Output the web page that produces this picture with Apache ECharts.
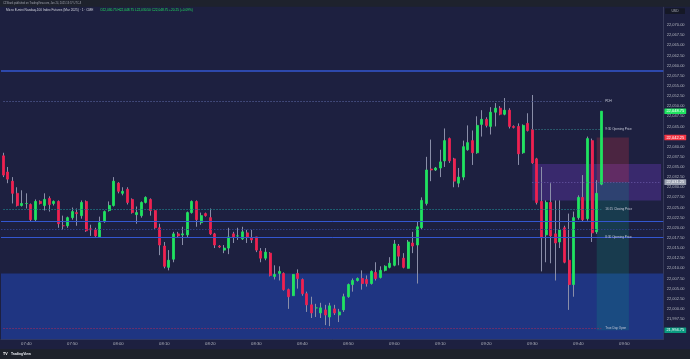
<!DOCTYPE html>
<html><head><meta charset="utf-8">
<script src="https://cdn.jsdelivr.net/npm/echarts/dist/echarts.min.js"></script>
<style>html,body{margin:0;padding:0;background:#1d2040;}#c{width:690px;height:359px;}</style>
</head><body><div id="c"></div>
<script>
// minute categories 07:35 .. 09:58
const times = [];
for (let m = 7 * 60 + 35; m <= 9 * 60 + 58; m++) {
  times.push(String(Math.floor(m / 60)).padStart(2, '0') + ':' + String(m % 60).padStart(2, '0'));
}
const opens = [
22037.75,22033.75,22031.5,22028.5,22025.5,22026.0,22025.75,22022.0,22026.5,22025.5,
22027.25,22026.0,22026.5,22020.5,22020.5,22022.5,22023.75,22023.0,22026.5,22019.75,
22019.5,22017.75,22021.5,22024.25,22025.5,22031.0,22028.5,22029.5,22027.0,22023.25,
22023.0,22026.25,22027.0,22024.25,22020.0,22015.5,22010.25,22012.25,22018.5,22018.25,
22018.25,22023.75,22026.5,22021.25,22023.5,22022.5,22018.5,22015.5,22014.5,22015.0,
22018.5,22018.0,22017.25,22018.75,22017.5,22017.75,22014.25,22012.5,22013.75,22008.0,
22008.75,22008.75,22004.75,22003.25,22008.75,22007.25,22003.75,22001.0,22000.25,21999.0,
21999.75,21998.0,22000.0,21998.5,21999.75,22003.0,22006.0,22007.0,22007.5,22007.25,
22006.25,22009.0,22007.75,22009.5,22010.25,22010.75,22015.5,22012.5,22010.0,22016.25,
22015.75,22020.0,22026.0,22034.5,22034.25,22034.75,22036.5,22042.0,22037.0,22031.0,
22032.5,22039.25,22041.5,22038.5,22045.5,22046.75,22045.0,22048.5,22049.5,22048.0,
22049.0,22045.0,22045.0,22038.5,22045.75,22044.25,22037.0,22026.5,22018.25,22026.25,
22018.5,22016.5,22020.0,22012.0,22006.0,22022.5,22027.5,22022.25,22041.5,22019.0,22030.75];
const closes = [
22033.0,22032.0,22028.5,22025.5,22026.0,22026.0,22022.0,22026.5,22026.0,22027.0,
22025.75,22026.5,22021.0,22020.5,22022.5,22024.0,22023.5,22026.25,22019.25,22019.5,
22018.0,22021.25,22024.0,22025.5,22031.5,22029.0,22029.0,22026.25,22023.75,22023.75,
22026.25,22027.5,22024.25,22020.0,22015.75,22010.5,22012.0,22018.5,22018.0,22018.5,
22023.75,22026.5,22022.0,22023.0,22023.0,22018.5,22015.75,22015.25,22015.0,22017.75,
22017.75,22018.0,22019.0,22017.75,22017.0,22014.5,22012.5,22014.0,22008.25,22008.5,
22009.25,22004.75,22003.0,22008.5,22007.5,22003.75,22001.0,21999.0,22000.25,22000.25,
21998.5,22000.75,21999.0,21999.25,22003.0,22006.0,22007.0,22007.5,22006.25,22006.25,
22009.25,22007.5,22009.5,22010.5,22011.25,22016.0,22013.0,22010.25,22016.5,22015.5,
22020.25,22026.75,22034.25,22034.25,22034.75,22036.25,22041.5,22036.5,22031.5,22032.5,
22040.0,22041.0,22038.5,22045.25,22046.75,22045.25,22048.5,22049.5,22048.0,22049.0,
22045.0,22044.75,22038.25,22045.25,22044.0,22036.0,22026.25,22017.5,22026.25,22018.0,
22016.25,22019.5,22011.5,22006.0,22022.5,22027.5,22022.0,22042.0,22018.75,22028.5,22048.75];
const lows = [
22032.5,22031.0,22026.0,22025.25,22025.25,22024.75,22021.5,22021.5,22025.75,22024.25,
22024.0,22025.5,22020.0,22019.5,22020.0,22022.0,22020.5,22022.25,22019.0,22018.0,
22017.75,22017.5,22021.25,22024.0,22025.25,22028.5,22028.0,22025.75,22023.5,22021.0,
22022.5,22026.0,22023.0,22019.75,22013.25,22010.0,22009.5,22011.5,22017.5,22015.75,
22017.5,22023.5,22020.25,22020.75,22022.75,22018.25,22015.0,22015.0,22013.75,22013.5,
22016.25,22017.0,22017.0,22016.25,22016.25,22014.0,22011.5,22012.0,22008.0,22007.25,
22007.0,22004.5,22000.0,22003.25,22005.0,22003.25,21999.25,21997.75,21998.0,21997.75,
21996.0,21995.75,21998.5,21996.75,21999.25,22002.75,22004.25,22006.75,22004.75,22005.5,
22006.0,22007.0,22007.5,22009.25,22010.0,22010.5,22010.75,22010.0,22010.0,22013.75,
22006.25,22019.5,22025.5,22031.5,22034.0,22032.5,22035.0,22036.0,22030.0,22030.0,
22031.75,22039.0,22035.5,22038.25,22042.5,22044.75,22043.0,22045.0,22047.75,22047.75,
22044.5,22044.5,22035.5,22038.25,22043.75,22035.75,22025.75,22009.25,22011.5,22011.25,
22007.0,22015.0,22011.25,21999.75,22003.0,22022.0,22021.5,22021.75,22016.5,22018.5,22030.5];
const highs = [
22038.5,22035.0,22032.5,22030.0,22029.25,22028.5,22026.0,22027.0,22026.75,22028.5,
22027.75,22026.75,22026.75,22023.0,22022.75,22025.0,22024.75,22026.75,22026.75,22020.75,
22020.0,22022.75,22024.25,22026.5,22032.5,22031.25,22030.0,22030.0,22027.25,22025.25,
22026.5,22027.75,22027.25,22024.25,22021.0,22016.5,22014.5,22019.0,22019.0,22020.25,
22024.0,22026.75,22026.75,22023.75,22023.75,22024.75,22018.75,22015.75,22015.75,22020.0,
22019.0,22020.0,22020.25,22019.5,22019.5,22017.75,22015.0,22015.0,22014.0,22010.75,
22010.5,22009.0,22005.0,22008.5,22009.75,22007.5,22004.25,22003.0,22001.25,22001.5,
22001.0,22001.5,22001.0,22000.0,22003.75,22006.25,22007.5,22007.75,22009.5,22008.25,
22009.5,22011.5,22010.5,22010.75,22012.75,22017.0,22016.0,22013.75,22017.0,22019.0,
22021.5,22027.5,22037.5,22041.75,22035.0,22039.25,22044.5,22042.25,22037.25,22034.75,
22041.5,22045.25,22044.0,22047.5,22049.0,22047.25,22049.75,22050.75,22050.0,22052.0,
22049.5,22045.25,22045.75,22045.5,22048.25,22052.75,22037.25,22035.0,22026.75,22031.0,
22026.75,22026.75,22020.5,22023.5,22024.0,22028.0,22033.0,22042.5,22042.0,22031.75,22048.75];

// labelled key levels (end at last bar)
const levelNames  = ['PDH', '9:30 Opening Price', '16:15 Closing Price', '8:30 Opening Price', 'True Day Open'];
const levelPrices = [22051.25, 22044.25, 22024.5, 22017.75, 21995.25];
const levelStarts = ['07:35', '09:30', '07:35', '07:35', '07:35'];
const levelColors = ['#4a5488', '#2e6a78', '#1f7480', '#3a58b8', '#7d2f68'];
// full width lines
const solidLines  = [22058.75, 22021.5, 22017.75];
const dottedLines = [22019.75];
// zones
const demandZone = [22008.75, 21992.5];
const openRange = [22035.75, 22026.75];
const openRangeMid = 22031.25;
// short position tool
const posStart = '09:44', posEnd = '09:51';
const posStop = 22042.25, posEntry = 22031.25, posTarget = 21994.75;
// axis ticks
const yTicks = {min: 21992.5, max: 22074.5, step: 2.5, showFrom: 21997.5, showTo: 22070};

const GREEN = '#1fe360', RED = '#ef2150', WICK = '#8a8ea8';
const FONT = 'Liberation Sans, Arial, sans-serif';
function fmt(v) { return v.toLocaleString('en-US', {minimumFractionDigits: 2, maximumFractionDigits: 2}); }

const n = opens.length;
const ohlc = opens.map((o, i) => [o, closes[i], lows[i], highs[i]]);
const bodies = opens.map((o, i) => [o, closes[i], Math.min(o, closes[i]), Math.max(o, closes[i])]);
const lastTime = times[n - 1];

const lo = opens[n - 1], lc = closes[n - 1], lh = highs[n - 1], ll = lows[n - 1], pc = closes[n - 2];
const chg = lc - pc;
const legendText = '{n|Micro E-mini Nasdaq-100 Index Futures (Mar 2025) · 1 · CME}  {v|O' + fmt(lo) + ' H' + fmt(lh) + ' L' + fmt(ll) + ' C' + fmt(lc) + ' +' + chg.toFixed(2) + ' (+' + (chg / pc * 100).toFixed(2) + '%)}';

const lineData = [];
levelNames.forEach((nm, i) => {
  lineData.push([
    {coord: [levelStarts[i], levelPrices[i]], lineStyle: {color: levelColors[i], type: [1.5, 1.5], width: 1},
     label: {show: true, position: 'end', distance: 4, formatter: nm, color: '#c5c8d6', fontSize: 3.1, fontFamily: FONT}},
    {coord: [lastTime, levelPrices[i]]}
  ]);
});
solidLines.forEach((p, i) => lineData.push({yAxis: p, lineStyle: {color: '#3356d0', width: i === 0 ? 1.6 : 1, type: 'solid'}, label: {show: false}}));
dottedLines.forEach(p => lineData.push({yAxis: p, lineStyle: {color: '#2e3f86', width: 1, type: [1.5, 1.5]}, label: {show: false}}));
lineData.push([
  {coord: ['09:30', openRangeMid], lineStyle: {color: '#6a5aa8', width: 1, type: [1, 2]}, label: {show: false}},
  {coord: [times[times.length - 1], openRangeMid]}
]);

const tagData = [];
function tag(v, bg, fg) {
  tagData.push({yAxis: v, lineStyle: {color: 'rgba(0,0,0,0)', width: 1, type: 'solid'},
    label: {show: true, position: 'end', distance: 1, formatter: fmt(v), backgroundColor: bg, color: fg,
      fontSize: 4, fontFamily: FONT, padding: [1, 2, 0.6, 2], borderRadius: 0.5}});
}
tag(lc, GREEN, '#ffffff');
tag(posStop, '#f23645', '#ffffff');
tag(posEntry, '#9aa0b0', '#ffffff');
tag(posTarget, '#0a9a80', '#ffffff');

const areaData = [
  [{yAxis: demandZone[0], itemStyle: {color: '#1f3582'}}, {yAxis: demandZone[1]}],
  [{xAxis: '09:30', yAxis: openRange[0], itemStyle: {color: 'rgba(103,58,183,0.38)'}}, {xAxis: times[times.length - 1], yAxis: openRange[1]}],
  [{xAxis: posStart, yAxis: posStop, itemStyle: {color: 'rgba(242,54,69,0.22)'}}, {xAxis: posEnd, yAxis: posEntry}],
  [{xAxis: posStart, yAxis: posEntry, itemStyle: {color: 'rgba(8,153,129,0.22)'}}, {xAxis: posEnd, yAxis: posTarget}]
];

const chart = echarts.init(document.getElementById('c'), null, {renderer: 'canvas'});
chart.setOption({
  animation: false,
  backgroundColor: '#1d2040',
  grid: {left: 1, right: 26.6, top: 6.8, bottom: 19.7, outerBoundsMode: 'none', containLabel: false},
  xAxis: {
    type: 'category', data: times, boundaryGap: true,
    axisLine: {show: true, lineStyle: {color: '#363a58', width: 1}},
    axisTick: {show: false}, splitLine: {show: false},
    axisLabel: {interval: (i, v) => v.slice(-1) === '0', color: '#b2b5be', fontSize: 4.2, fontFamily: FONT, margin: 3}
  },
  yAxis: {
    type: 'value', position: 'right', min: yTicks.min, max: yTicks.max, interval: yTicks.step,
    axisLine: {show: true, lineStyle: {color: '#363a58', width: 1}},
    axisTick: {show: false}, splitLine: {show: false},
    axisLabel: {color: '#b2b5be', fontSize: 4, fontFamily: FONT, margin: 3.4, showMinLabel: true, showMaxLabel: true,
      formatter: v => (v < yTicks.showFrom - 0.01 || v > yTicks.showTo + 0.01) ? '' : fmt(v)}
  },
  graphic: [
    {type: 'rect', shape: {x: 0, y: 0, width: 690, height: 6.7}, style: {fill: '#1e222d'}, z: 50},
    {type: 'text', x: 3, y: 3.4, style: {text: 'CZSbark published on TradingView.com, Jan 24, 2025 13:57 UTC-8', fill: '#9ea2ad', fontSize: 2.6, fontFamily: FONT, verticalAlign: 'middle'}, z: 51},
    {type: 'text', x: 6, y: 10.3, style: {text: legendText, verticalAlign: 'middle', fontFamily: FONT,
      rich: {n: {fill: '#d1d4dc', fontSize: 3.2, fontFamily: FONT}, v: {fill: GREEN, fontSize: 3.2, fontFamily: FONT}}}, z: 51},
    {type: 'rect', shape: {x: 665, y: 8.3, width: 20, height: 5.6, r: 0.6}, style: {fill: '#151826'}, z: 51},
    {type: 'text', x: 675, y: 11.1, style: {text: 'USD', fill: '#b2b5be', fontSize: 3.4, fontFamily: FONT, align: 'center', verticalAlign: 'middle'}, z: 52},
    {type: 'rect', shape: {x: 0, y: 349.3, width: 690, height: 10}, style: {fill: '#1e222a'}, z: 50},
    {type: 'text', x: 3, y: 354.2, style: {text: '{a|TV} {b|TradingView}', verticalAlign: 'middle', fontFamily: FONT,
      rich: {a: {fill: '#ffffff', fontSize: 3.6, fontWeight: 'bold', fontFamily: FONT}, b: {fill: '#e6e8ee', fontSize: 3.4, fontWeight: 'bold', fontFamily: FONT}}}, z: 51}
  ],
  series: [
    {type: 'line', data: [], z: 1, clip: false, silent: true,
     markArea: {silent: true, data: areaData}},
    {type: 'line', data: [], z: 2, clip: false, silent: true,
     markLine: {silent: true, symbol: ['none', 'none'], animation: false, data: lineData}},
    {type: 'candlestick', data: ohlc, z: 3, barWidth: 1, silent: true,
     itemStyle: {color: 'transparent', color0: 'transparent', borderColor: WICK, borderColor0: WICK, borderWidth: 1}},
    {type: 'candlestick', data: bodies, z: 4, barWidth: 2.6, silent: true,
     itemStyle: {color: GREEN, color0: RED, borderColor: GREEN, borderColor0: RED, borderWidth: 0.8}},
    {type: 'line', data: [], z: 10, zlevel: 1, clip: false, silent: true,
     markLine: {silent: true, symbol: ['none', 'none'], animation: false, data: tagData}}
  ]
});
</script></body></html>
